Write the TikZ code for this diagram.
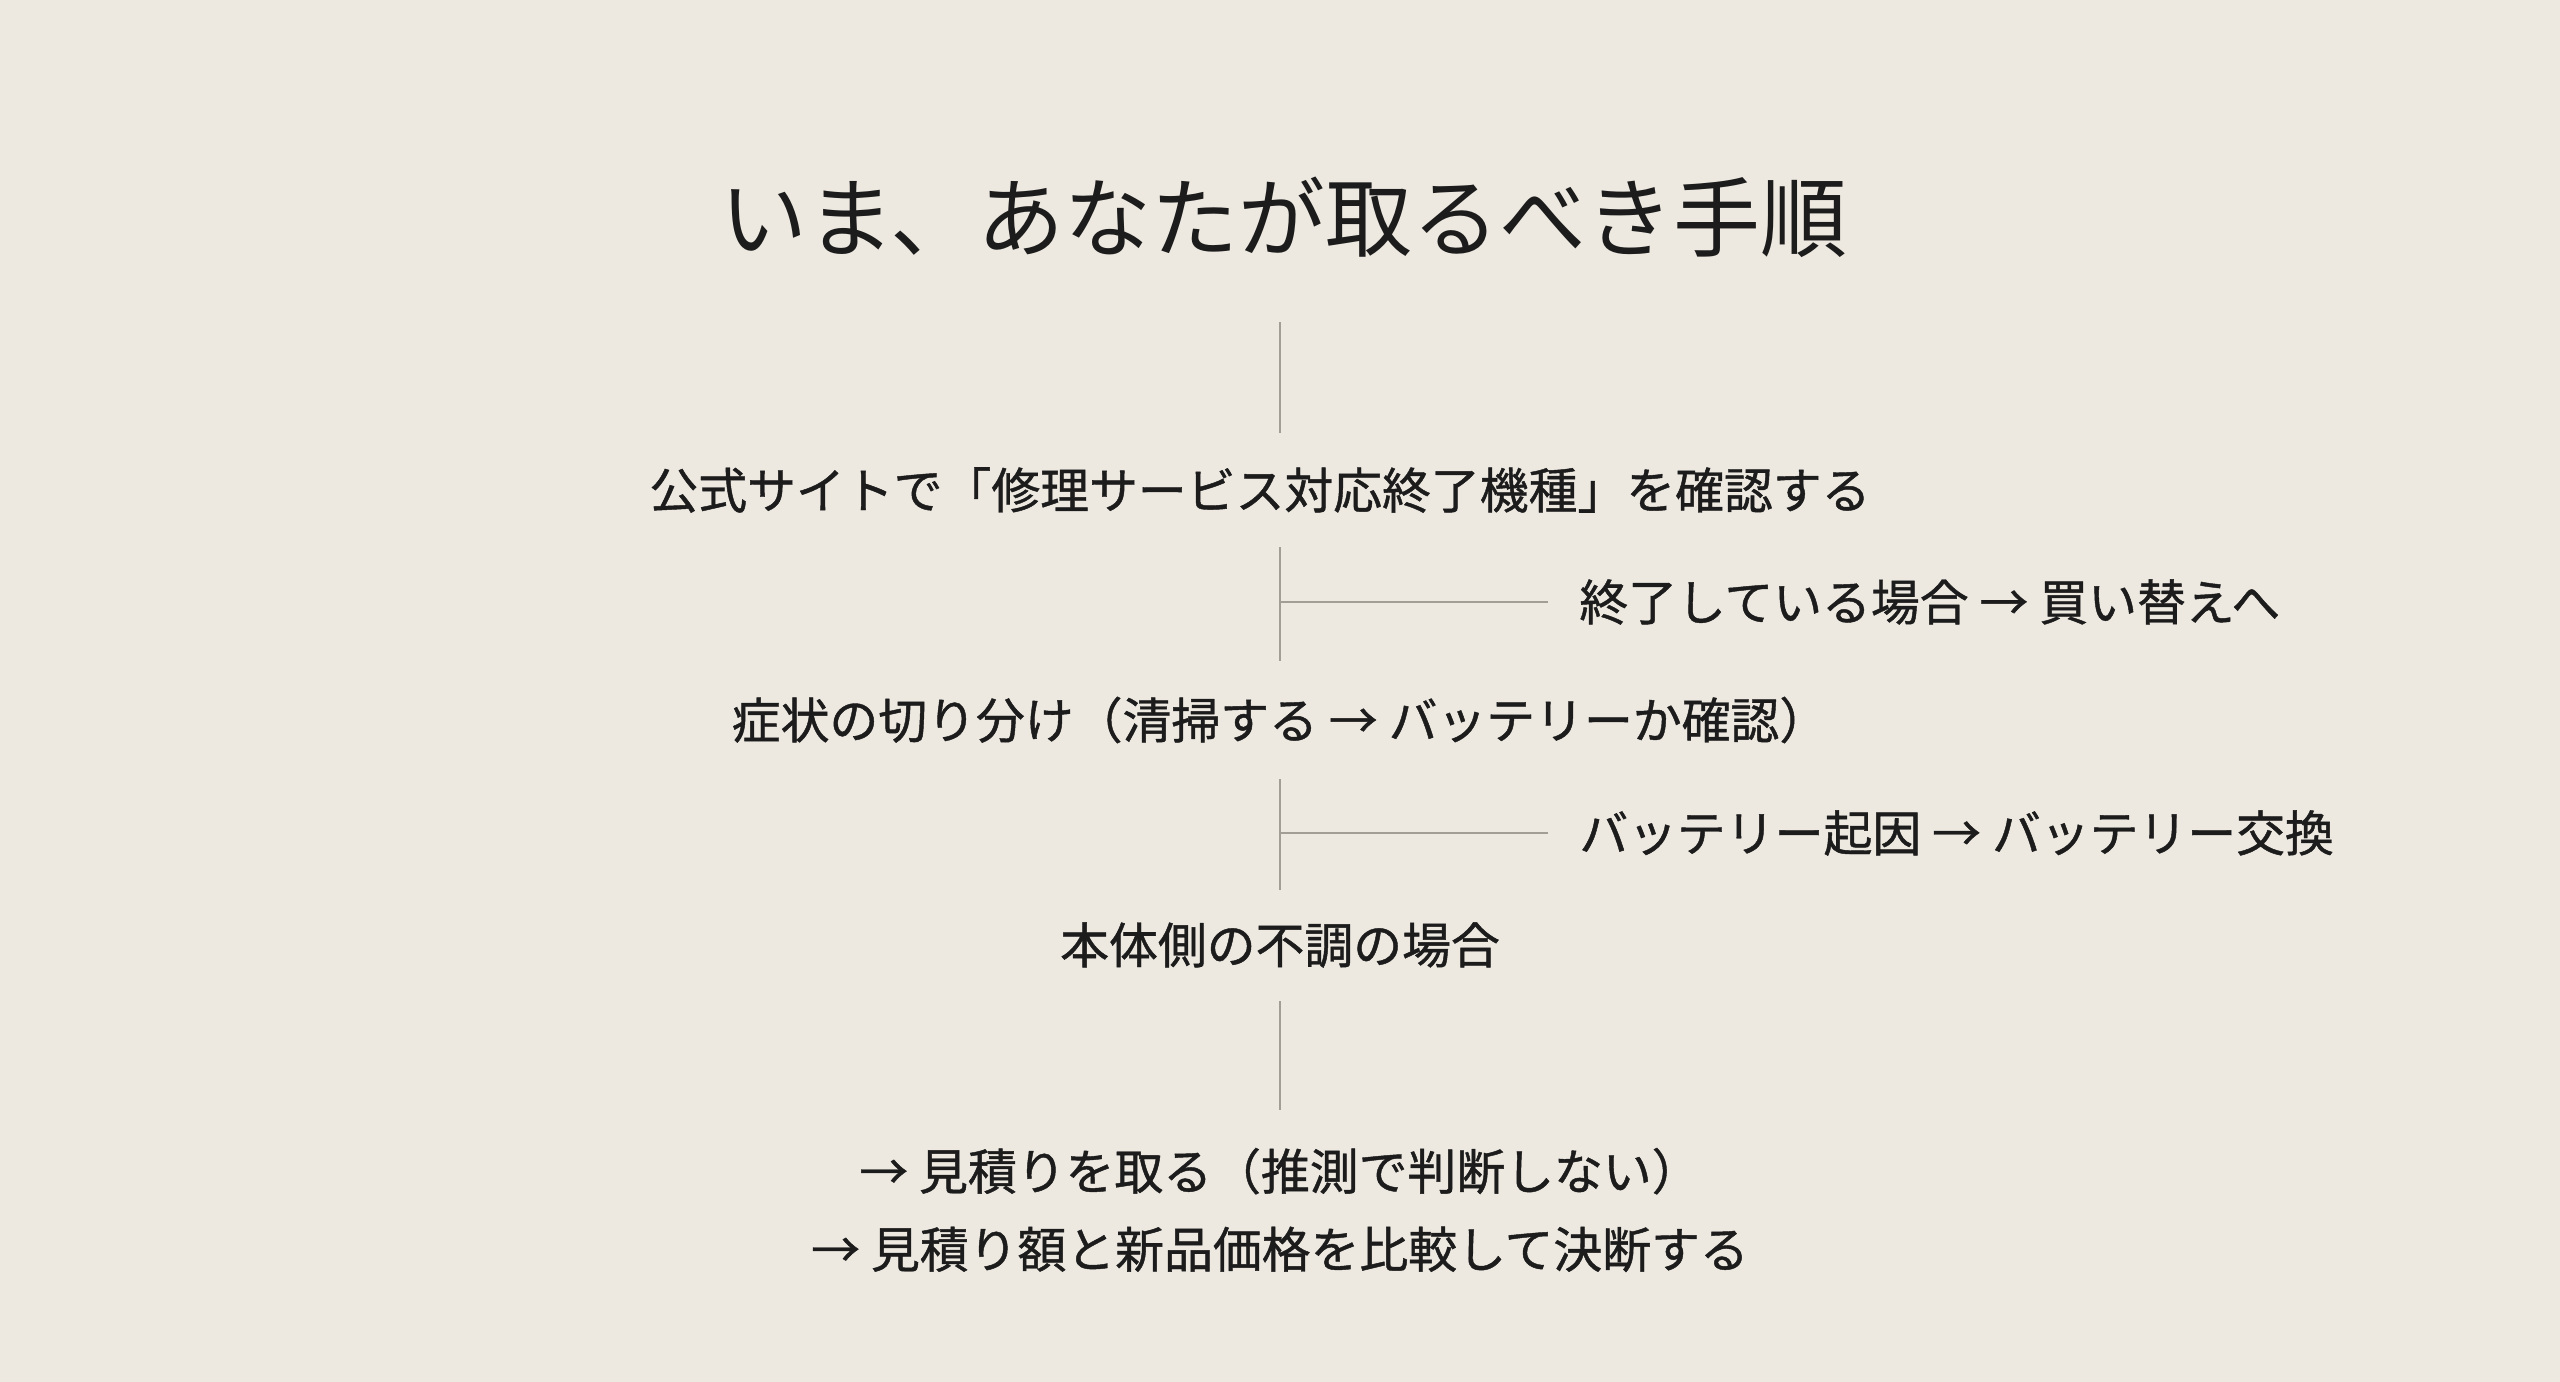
\documentclass[tikz,border=0pt]{standalone}
\usepackage{fontspec}
\newfontfamily\jpfont{Noto Sans CJK JP}
\newfontfamily\jpmid{Noto Sans CJK JP}[FakeBold=0.9]
\definecolor{paper}{RGB}{237,233,225}
\definecolor{ink}{RGB}{28,28,28}
\definecolor{rulegray}{RGB}{162,158,150}
\begin{document}
\begin{tikzpicture}[x=0.02cm,y=-0.02cm,
  every node/.style={font=\jpmid\fontsize{27.8}{44.4}\selectfont,text=ink},
  branch/.style={anchor=west,inner xsep=0.62cm}]
 \fill[paper] (0,0) rectangle (2560,1382);
 \useasboundingbox (0,0) rectangle (2560,1382);
 \draw (1284,217) node[font=\jpfont\fontsize{49.5}{60}\selectfont] (title) {いま、あなたが取るべき手順};
  \draw (1260,490) node (koushiki) {公式サイトで「修理サービス対応終了機種」を確認する};
  \draw (1548,602) node[branch] (shuuryou) {終了している場合 → 買い替えへ};
   \draw (1280,720) node (shoujou) {症状の切り分け（清掃する → バッテリーか確認）};
  \draw (1548,833) node[branch] (battery) {バッテリー起因 → バッテリー交換};
	\draw (1280,945) node (hontai) {本体側の不調の場合};
	\draw (1280,1210) node[align=center] (mitsumori) {→ 見積りを取る（推測で判断しない）\\→ 見積り額と新品価格を比較して決断する};

 \coordinate (top1) at (1280,322); \coordinate (bot1) at (1280,433);
 \coordinate (top2) at (1280,547); \coordinate (bot2) at (1280,661);
 \coordinate (fork1) at (1280,602);
 \coordinate (top3) at (1280,779); \coordinate (bot3) at (1280,890);
 \coordinate (fork2) at (1280,833);
 \coordinate (top4) at (1280,1001); \coordinate (bot4) at (1280,1110);

     \path[-,color=rulegray,line width=1pt] (top1) edge (bot1);
     \path[-,color=rulegray,line width=1pt] (top2) edge (bot2);
     \path[-,color=rulegray,line width=1pt] (fork1) edge (shuuryou);
     \path[-,color=rulegray,line width=1pt] (top3) edge (bot3);
     \path[-,color=rulegray,line width=1pt] (fork2) edge (battery);
     \path[-,color=rulegray,line width=1pt] (top4) edge (bot4);
\end{tikzpicture}
\end{document}
